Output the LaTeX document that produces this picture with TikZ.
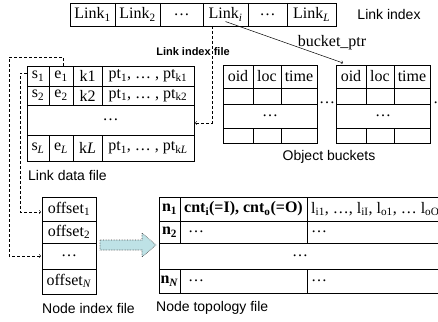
\documentclass[tikz,border=0pt]{standalone}
\usepackage{fontspec}
\setmainfont{Liberation Serif}
\setsansfont{Liberation Sans}
\newcommand{\lsub}[1]{\textsubscript{#1}}
\definecolor{arrowfill}{RGB}{190,226,230}
\tikzset{
  cell/.style={font=\fontsize{16}{18}\selectfont, inner sep=0pt},
  bcell/.style={cell, font=\fontsize{16}{18}\selectfont\bfseries},
  lbl/.style={font=\sffamily\fontsize{14}{16}\selectfont, inner sep=0pt},
  ptr/.style={dash pattern=on 3pt off 2pt, ->, line width=0.5pt},
  tbl/.style={line width=0.8pt}
}
\begin{document}
\begin{tikzpicture}[x=1pt,y=-1pt]
		\useasboundingbox (0,0) rectangle (438,321);
		% link index
		\draw[tbl] (70,3) rectangle (336,26);
		\foreach \cx in {115,160,203,248,287}
			\draw[tbl] (\cx,3) -- (\cx,26);
		\node[cell] (l1) at (92.5,14.5) {Link\lsub{1}};
		\node[cell] (l2) at (137.5,14.5) {Link\lsub{2}};
		\node[cell] (ld1) at (181.5,14.5) {…};
		\node[cell] (li) at (225.5,14.5) {Link\lsub{\textit{i}}};
		\node[cell] (ld2) at (267.5,14.5) {…};
		\node[cell] (lL) at (311.5,14.5) {Link\lsub{\textit{L}}};
		\node[lbl] (lidx) at (389,14) {Link index};
		\node[lbl, font=\sffamily\bfseries\fontsize{11}{13}\selectfont] (lidxf) at (193,52) {Link index file};
		% link data file
		\draw[tbl] (27,66) rectangle (194,161);
		\foreach \ry in {86,105,135}
			\draw[tbl] (27,\ry) -- (194,\ry);
		\foreach \cx in {49,73,102} {
			\draw[tbl] (\cx,66) -- (\cx,105);
			\draw[tbl] (\cx,135) -- (\cx,161);
		}
		\node[cell] (s1) at (38,76) {s\lsub{1}};
		\node[cell] (e1) at (61,76) {e\lsub{1}};
		\node[cell] (k1) at (87.5,76) {k1};
		\node[cell] (pt1) at (148,76) {pt\lsub{1}, … , pt\lsub{k1}};
		\node[cell] (s2) at (38,95.5) {s\lsub{2}};
		\node[cell] (e2) at (61,95.5) {e\lsub{2}};
		\node[cell] (k2) at (87.5,95.5) {k2};
		\node[cell] (pt2) at (148,95.5) {pt\lsub{1}, … , pt\lsub{k2}};
		\node[cell] (ldots) at (110.5,120) {…};
		\node[cell] (sL) at (38,148) {s\lsub{\textit{L}}};
		\node[cell] (eL) at (61,148) {e\lsub{\textit{L}}};
		\node[cell] (kL) at (87.5,148) {k\textit{L}};
		\node[cell] (ptL) at (148,148) {pt\lsub{1}, … , pt\lsub{k\textit{L}}};
		\node[lbl, anchor=west] (ldf) at (28,175) {Link data file};
		% object buckets
		\foreach \bx/\bn in {223/1,336/2} {
			\draw[tbl] (\bx,65) rectangle (\bx+94,143);
			\foreach \ry in {88,104,128}
				\draw[tbl] (\bx,\ry) -- (\bx+94,\ry);
			\foreach \cx in {30,58} {
				\draw[tbl] (\bx+\cx,65) -- (\bx+\cx,104);
				\draw[tbl] (\bx+\cx,128) -- (\bx+\cx,143);
			}
			\node[cell] (oid\bn) at (\bx+15,76.5) {oid};
			\node[cell] (loc\bn) at (\bx+44,76.5) {loc};
			\node[cell] (time\bn) at (\bx+76,76.5) {time};
			\node[cell] (bdots\bn) at (\bx+47,116) {…};
		}
		\node[cell] (bgap) at (327,103) {…};
		\node[cell, anchor=west] (bmore) at (433,103) {…};
		\node[lbl] (objb) at (329,157) {Object buckets};
		\node[cell] (bptrl) at (332,43) {bucket\_ptr};
		% node index file
		\draw[tbl] (42,197) rectangle (96,294);
		\foreach \ry in {221,243,269}
			\draw[tbl] (42,\ry) -- (96,\ry);
		\node[cell] (off1) at (69,209) {offset\lsub{1}};
		\node[cell] (off2) at (69,232) {offset\lsub{2}};
		\node[cell] (offd) at (69,256) {…};
		\node[cell] (offN) at (69,281) {offset\lsub{\textit{N}}};
		\node[lbl, anchor=west] (nif) at (42,308) {Node index file};
		% node topology file
		\draw[tbl] (442,197) -- (159,197) -- (159,293) -- (442,293);
		\foreach \ry in {221,243,269}
			\draw[tbl] (159,\ry) -- (442,\ry);
		\foreach \cx in {180,307} {
			\draw[tbl] (\cx,197) -- (\cx,243);
			\draw[tbl] (\cx,269) -- (\cx,293);
		}
		\node[bcell] (n1) at (169.5,209) {n\lsub{1}};
		\node[bcell] (cnt) at (243.5,209) {cnt\lsub{i}(=I), cnt\lsub{o}(=O)};
		\node[cell, anchor=west] (lio) at (311,209) {l\lsub{i1}, …, l\lsub{iI}, l\lsub{o1}, … l\lsub{oO}};
		\node[bcell] (n2) at (169.5,232) {n\lsub{2}};
		\node[cell, anchor=west] (n2a) at (188,232) {…};
		\node[cell, anchor=west] (n2b) at (311,232) {…};
		\node[cell] (ndots) at (300,256) {…};
		\node[bcell] (nN) at (169.5,281) {n\lsub{\textit{N}}};
		\node[cell, anchor=west] (nNa) at (188,281) {…};
		\node[cell, anchor=west] (nNb) at (311,281) {…};
		\node[lbl, anchor=west] (ntf) at (156,308) {Node topology file};
		% big arrow
		\draw[densely dotted, line width=0.6pt, draw=black!75, fill=arrowfill]
			(100,240) -- (142,240) -- (142,233) -- (156,245) -- (142,257) -- (142,250) -- (100,250) -- cycle;
		% pointers
		\coordinate (bptr) at (343,63);
		\draw[->, line width=0.5pt] (li.south) -- (bptr);
		\coordinate (litop) at (212,26);
		\coordinate (ldr) at (195,123);
		\draw[ptr] (litop) |- (ldr);
		\coordinate (s1w) at (27,73);
		\coordinate (off1w) at (41,212);
		\draw[ptr] (s1w) -- ++(-7,0) |- (off1w);
		\coordinate (e1n) at (63,66);
		\coordinate (offdw) at (41,256);
		\draw[ptr] (e1n) -- ++(0,-9) -- ++(-54,0) |- (offdw);
\end{tikzpicture}
\end{document}
